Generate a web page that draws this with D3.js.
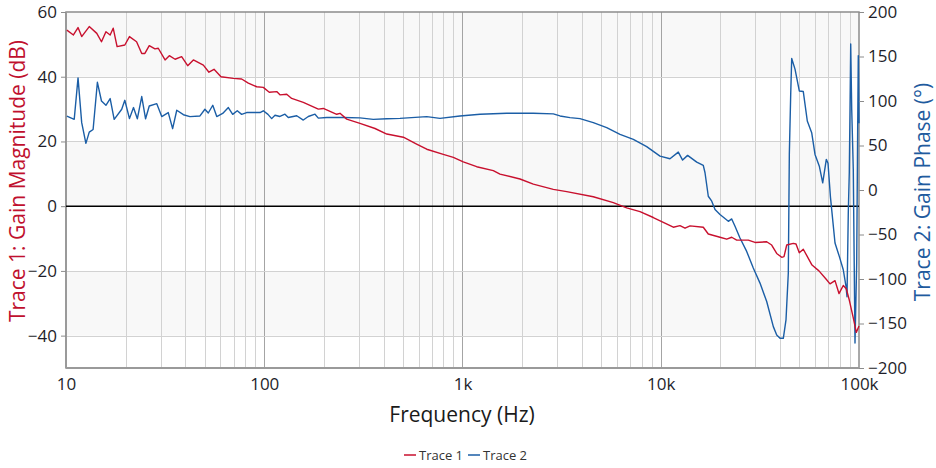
<!DOCTYPE html>
<html><head><meta charset="utf-8">
<script src="https://cdn.jsdelivr.net/npm/d3@7/dist/d3.min.js"></script>
<style>
html,body{margin:0;padding:0;background:#fff;}
svg text{font-family:"Open Sans","Noto Sans",sans-serif;}
</style></head>
<body><svg id="chart" width="936" height="468"></svg>
<script>
// ---- data ----
const xTickValues = [10, 100, 1000, 10000, 100000];
const xTickLabels = ["10", "100", "1k", "10k", "100k"];
const leftTicks = [60, 40, 20, 0, -20, -40];
const rightTicks = [200, 150, 100, 50, 0, -50, -100, -150, -200];
const seriesNames = ["Trace 1", "Trace 2"];

const freq1 = [10.1,10.9,11.5,12.0,13.1,14.3,15.1,15.9,16.7,17.3,18.1,19.8,20.9,22.7,24.1,25.0,26.3,28.1,29.2,31.6,33.2,35.5,38.3,41.1,43.9,49.3,52.6,55.8,60.5,69.8,76.9,83.1,91.6,98.9,106,115.6,120,129.8,137.5,157.4,187.4,198.6,232,241,260.5,304,362,415,503,587,660,800,899,1009,1179,1430,1546,1950,2276,2871,3355,4568,5763,6733,7859,9170,11570,12500,13260,14050,16390,17370,19900,21510,22800,24160,27650,29880,34230,36270,38440,40750,41850,43190,46640,48120,49970,52360,57940,62810,68150,71400,75680,79250,83300,86280,89330,93580,96900,100000];
const mag1 = [54.4,52.9,55.2,52.4,55.5,53.4,50.8,53.9,52.9,55.0,49.3,49.8,52.4,50.8,47.2,47.2,49.6,48.6,48.8,45.2,46.5,45.4,46.2,43.4,45.2,43.6,41.4,42.3,40.0,39.5,39.3,38.0,36.9,36.7,35.2,35.4,34.4,34.6,33.3,32.1,30.0,30.2,28.4,28.7,26.9,25.6,24.0,22.3,21.3,19.2,17.6,16.0,15.1,13.7,12.2,11.0,9.9,8.4,6.8,5.2,4.5,2.9,1.1,-0.5,-1.7,-3.5,-6.5,-6.0,-6.8,-6.1,-6.5,-8.6,-9.6,-10.2,-9.6,-10.5,-10.5,-11.2,-11.0,-12.0,-14.6,-15.8,-15.6,-12.0,-11.5,-11.7,-14.4,-13.3,-18.2,-20.0,-22.5,-24.0,-23.0,-27.0,-24.5,-25.5,-29.0,-34.5,-39.0,-37.0];

const freq2 = [10.1,11.0,11.5,12.0,12.6,13.1,13.7,14.4,15.1,15.9,16.7,17.5,19.1,19.8,20.9,21.9,22.9,24.1,25.2,26.3,28.7,30.4,32.8,34.5,36.2,39.1,42.2,47.4,50.2,52.2,55.0,57.6,61.7,65.9,69.3,73.1,76.9,81.5,95.2,98.9,104.4,109,113.3,120,127.2,132.2,145.8,157.4,166.8,180.3,187.4,206.5,250.4,304,354.8,415,484,660,770,971,1226,1671,2276,2871,3104,3485,3914,4568,5338,6231,7273,8492,9913,11130,12260,12890,13660,15190,16390,16720,17370,18080,18780,19900,21920,22800,23690,25100,27130,29290,31670,34230,36970,38450,39960,41520,42830,44000,44520,45240,45770,47560,49990,52360,54850,57720,60000,63070,65610,68410,69770,71780,75680,79550,83300,85990,87000,88300,89330,90090,90820,91890,93580,95460,97360,98490,99190,100000];
const phase2 = [83,79.4,126,75.7,52.4,65,68,121,100,95.2,102.7,79.4,90.7,100.8,80.2,92.6,80,105,80,94.4,97,82.5,87,68.9,89.6,84.6,82.5,83.2,90.7,86.5,95.2,82.5,86,92.6,85,89,85,87,87,89,85,80.2,84,82.6,85.2,81.5,83.4,78.6,82.6,85.2,80.8,81.5,81.5,81,79.4,80,80.5,82.5,80.5,83.2,85.1,86.2,86.2,85.5,83.2,81.3,80.2,75.7,70,62.5,56.9,48.7,38,35.1,42.6,33.6,38.9,31.3,27.6,19.4,-7,-12.6,-22,-27.6,-35.2,-32.5,-40.8,-53.9,-69,-87.7,-104.6,-125.3,-153.5,-162.8,-166.6,-166.6,-146,-93.3,40,107.6,147.8,135.8,111.3,110.6,77.5,64.4,40,26.8,8,34.4,30,-8,-59.5,-74.6,-89.6,-108.4,-120,-25.7,19.4,90.7,164,90.7,23,-172,-82,71.9,151,75];

// ---- layout ----
const svg = d3.select("#chart");
const L = 66, R = 859, T = 12, B = 368;
const x = d3.scaleLog().domain([10, 100000]).range([L, R]);
const yL = d3.scaleLinear().domain([-50, 60]).range([B, T]);
const yR = d3.scaleLinear().domain([-200, 200]).range([B, T]);
const red = "#c8102e", blue = "#1b5ea6";

// bands
const bands = [[40, 60], [0, 20], [-40, -20]];
svg.append("g").selectAll("rect").data(bands).join("rect")
  .attr("x", L).attr("width", R - L)
  .attr("y", d => yL(d[1])).attr("height", d => yL(d[0]) - yL(d[1]))
  .attr("fill", "#f8f8f8");

// vertical grid
const minor = [];
for (let dec = 10; dec < 100000; dec *= 10) for (let k = 2; k <= 9; k++) minor.push(dec * k);
svg.append("g").selectAll("line").data(minor).join("line")
  .attr("x1", d => Math.round(x(d)) + 0.5).attr("x2", d => Math.round(x(d)) + 0.5)
  .attr("y1", T).attr("y2", B).attr("stroke", "#d2d2d2").attr("stroke-width", 1);
svg.append("g").selectAll("line").data(xTickValues.slice(1, -1)).join("line")
  .attr("x1", d => Math.round(x(d)) + 0.5).attr("x2", d => Math.round(x(d)) + 0.5)
  .attr("y1", T).attr("y2", B).attr("stroke", "#a4a4a4").attr("stroke-width", 1);
// horizontal grid
svg.append("g").selectAll("line").data(leftTicks.filter(v => v !== 0 && v !== 60)).join("line")
  .attr("x1", L).attr("x2", R)
  .attr("y1", d => Math.round(yL(d)) + 0.5).attr("y2", d => Math.round(yL(d)) + 0.5)
  .attr("stroke", "#d2d2d2").attr("stroke-width", 1);

// frame
svg.append("rect").attr("x", L).attr("y", T).attr("width", R - L).attr("height", B - T)
  .attr("fill", "none").attr("stroke", "#8c8c8c").attr("stroke-width", 1.5);
svg.append("line").attr("x1", L).attr("x2", L).attr("y1", T).attr("y2", B).attr("stroke", "#9a9a9a").attr("stroke-width", 2);
svg.append("line").attr("x1", L).attr("x2", R).attr("y1", B).attr("y2", B).attr("stroke", "#9a9a9a").attr("stroke-width", 2);

// zero line
svg.append("line").attr("x1", L).attr("x2", R).attr("y1", yL(0)).attr("y2", yL(0))
  .attr("stroke", "#000").attr("stroke-width", 1.5);

// clip
svg.append("clipPath").attr("id", "clip").append("rect")
  .attr("x", L).attr("y", T).attr("width", R - L + 1).attr("height", B - T);

const line1 = d3.line().x((d, i) => x(freq1[i])).y(d => yL(d));
const line2 = d3.line().x((d, i) => x(freq2[i])).y(d => yR(d));
const g = svg.append("g").attr("clip-path", "url(#clip)");
g.append("path").datum(phase2).attr("d", line2).attr("fill", "none")
  .attr("stroke", blue).attr("stroke-width", 1.4).attr("stroke-linejoin", "round");
g.append("path").datum(mag1).attr("d", line1).attr("fill", "none")
  .attr("stroke", red).attr("stroke-width", 1.4).attr("stroke-linejoin", "round");

// axes
const axL = d3.axisLeft(yL).tickValues(leftTicks).tickSize(5).tickPadding(4);
const gL = svg.append("g").attr("transform", `translate(${L},0)`).call(axL);
const axR = d3.axisRight(yR).tickValues(rightTicks).tickSize(5).tickPadding(4);
const gR = svg.append("g").attr("transform", `translate(${R},0)`).call(axR);
const axB = d3.axisBottom(x).tickValues(xTickValues).tickFormat((d, i) => xTickLabels[i]).tickSize(0).tickPadding(10);
const gB = svg.append("g").attr("transform", `translate(0,${B})`).call(axB);
[gL, gR, gB].forEach(a => {
  a.select(".domain").remove();
  a.selectAll(".tick line").attr("stroke", "#8c8c8c");
  a.selectAll("text").attr("fill", "#1e1e2a").style("font-size", "17px")
    .style("font-family", '"Open Sans","Noto Sans",sans-serif');
});

// axis titles
svg.append("text").attr("transform", "translate(25,181) rotate(-90)")
  .attr("text-anchor", "middle").attr("fill", "#c0102e").style("font-size", "21px")
  .text("Trace 1: Gain Magnitude (dB)");
svg.append("text").attr("transform", "translate(930,192) rotate(-90)")
  .attr("text-anchor", "middle").attr("fill", "#1f5b9e").style("font-size", "21px")
  .text("Trace 2: Gain Phase (°)");
svg.append("text").attr("x", 462).attr("y", 422).attr("text-anchor", "middle")
  .attr("fill", "#1a1a1a").style("font-size", "21px").text("Frequency (Hz)");

// legend
const legX = [404, 468];
const lg = svg.append("g").selectAll("g").data(seriesNames).join("g")
  .attr("transform", (d, i) => `translate(${legX[i]},455)`);
lg.append("line").attr("x1", 0).attr("x2", 12).attr("y1", 0).attr("y2", 0)
  .attr("stroke", (d, i) => i === 0 ? red : blue).attr("stroke-width", 1.5);
lg.append("text").attr("x", 15).attr("y", 4.5).attr("fill", "#333")
  .style("font-size", "13px").text(d => d);
</script></body></html>
